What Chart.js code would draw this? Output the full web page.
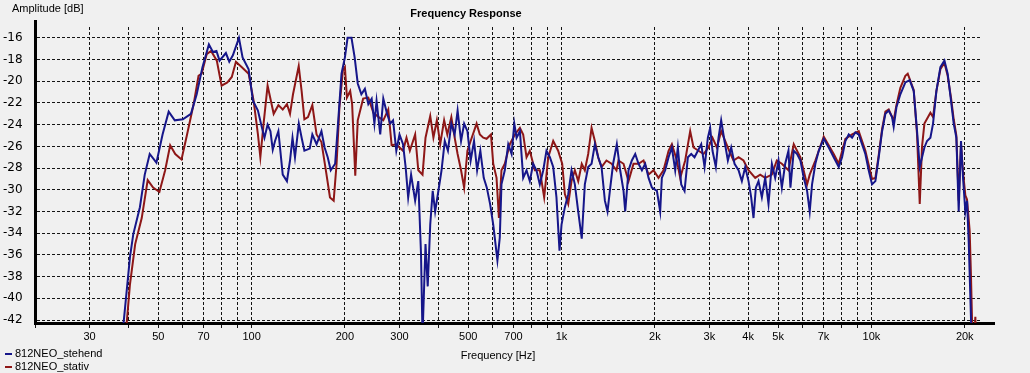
<!DOCTYPE html>
<html>
<head>
<meta charset="utf-8">
<title>Frequency Response</title>
<script src="https://cdn.jsdelivr.net/npm/chart.js@4.4.7/dist/chart.umd.min.js"></script>
<style>
  html, body { margin: 0; padding: 0; background: #f0f0f0; }
  #wrap { position: relative; width: 1030px; height: 373px; }
  #chart { display: block; }
  #legend { position: absolute; left: 5px; top: 347px; font: 11px "Liberation Sans", Arial, sans-serif; color: #000; }
  #legend .row { height: 13px; line-height: 13px; white-space: nowrap; }
  #legend .mark { display: inline-block; width: 7px; height: 2px; vertical-align: middle; margin-right: 3px; }
</style>
</head>
<body>
<div id="wrap">
  <canvas id="chart" width="1030" height="373"></canvas>
  <div id="legend"></div>
</div>
<script>
// axis ticks
const gridFreqs = [20, 30, 40, 50, 60, 70, 80, 90, 100, 200, 300, 400, 500, 600, 700, 800, 900,
  1000, 2000, 3000, 4000, 5000, 6000, 7000, 8000, 9000, 10000, 20000]
const labelFreqs = [30, 50, 70, 100, 200, 300, 500, 700, 1000, 2000, 3000, 4000, 5000, 7000, 10000, 20000]
const labelTexts = ["30", "50", "70", "100", "200", "300", "500", "700", "1k", "2k", "3k", "4k", "5k", "7k", "10k", "20k"]
const dbTicks = [-42, -40, -38, -36, -34, -32, -30, -28, -26, -24, -22, -20, -18, -16]

// 812NEO_stehend
const stehendHz = [
  37.5, 38.7, 40.5, 41.5, 43.6, 45.2, 46.9, 49.3, 51.6, 54,
  56.5, 60, 63.7, 66.5, 69.4, 72.8, 75, 77, 78.8, 82.6,
  84.7, 87, 91, 93.5, 97.8, 101, 104.8, 107.8, 110, 112.6,
  115, 117, 119, 122, 126, 130, 133, 135.5, 138, 142,
  145, 148, 154, 157, 162, 168, 172, 176, 180, 186,
  190, 195, 200, 204, 210, 215, 220, 226, 232, 238,
  244, 249, 253, 260, 266, 273, 280, 286, 293, 300,
  308, 314, 320, 327, 337, 345, 352, 356, 364, 370,
  377, 384, 391, 400, 410, 420, 430, 441, 452, 462,
  474, 485, 497, 509, 522, 534, 547, 561, 574, 588,
  602, 621, 632, 640, 656, 673, 690, 704, 716, 734,
  752, 771, 790, 810, 830, 851, 873, 894, 917, 940,
  963, 985, 1000, 1025, 1051, 1077, 1104, 1132, 1162, 1189,
  1219, 1250, 1281, 1313, 1346, 1380, 1407, 1432, 1467, 1508,
  1546, 1585, 1605, 1645, 1686, 1729, 1772, 1817, 1862, 1909,
  1957, 2031, 2081, 2107, 2160, 2215, 2270, 2327, 2373, 2433,
  2494, 2557, 2621, 2686, 2754, 2823, 2894, 2966, 3017, 3070,
  3147, 3211, 3274, 3356, 3441, 3527, 3616, 3725, 3818, 3914,
  4012, 4092, 4163, 4237, 4321, 4430, 4541, 4654, 4772, 4891,
  5013, 5139, 5268, 5398, 5477, 5614, 5755, 5899, 6047, 6199,
  6321, 6432, 6592, 6760, 7015, 7281, 7554, 7842, 8040, 8239,
  8447, 8660, 8873, 9097, 9325, 9558, 9796, 10044, 10297, 10555,
  10823, 11091, 11368, 11656, 11795, 12038, 12395, 12866, 13288, 13690,
  14032, 14315, 14563, 14820, 15113, 15495, 15803, 16199, 16690, 17196,
  17618, 18059, 18426, 18793, 19121, 19453, 19746, 20088, 20341, 20594,
  20956, 21150
]
const stehendDb = [
  -46, -42, -36.2, -34.1, -31.6, -28.6, -26.7, -27.5, -24.9, -22.8,
  -23.6, -23.5, -23.0, -21.2, -18.7, -16.6, -17.3, -17.2, -18.1, -17.4,
  -18.2, -17.6, -16.0, -17.8, -18.9, -21.8, -22.7, -24.2, -25.2, -24.0,
  -24.6, -26.3, -25.5, -24.6, -28.6, -29.2, -27.3, -25.2, -27.0, -23.9,
  -25.2, -26.4, -26.2, -24.9, -25.8, -24.6, -26.1, -27.0, -28.2, -27.6,
  -23.9, -19.3, -17.8, -16.0, -16.0, -17.8, -20.2, -21.2, -20.7, -22.1,
  -21.6, -23.9, -21.8, -24.9, -21.6, -22.9, -23.9, -23.6, -26.4, -24.9,
  -25.8, -27.9, -30.7, -28.6, -31.0, -29.2, -35.9, -43.5, -35.0, -38.9,
  -33.2, -30.1, -32.0, -30.2, -28.2, -25.5, -26.4, -23.9, -24.9, -22.7,
  -25.5, -23.9, -24.6, -27.3, -25.5, -28.2, -26.4, -28.9, -29.8, -31.3,
  -33.2, -36.5, -34.4, -29.5, -28.2, -25.8, -26.7, -23.9, -25.2, -24.6,
  -28.9, -28.2, -29.2, -27.6, -28.2, -29.5, -28.2, -26.4, -27.0, -27.9,
  -30.7, -35.6, -33.2, -31.6, -30.4, -28.2, -29.5, -32.0, -34.5, -29.5,
  -27.9, -27.6, -25.8, -27.0, -27.9, -31.0, -32.0, -30.1, -27.6, -25.8,
  -28.2, -30.1, -32.0, -28.2, -27.3, -26.7, -27.6, -28.2, -27.6, -28.9,
  -29.8, -30.1, -32.0, -28.9, -28.2, -27.0, -26.1, -28.2, -26.1, -29.5,
  -30.1, -27.0, -26.7, -27.0, -26.4, -25.8, -27.9, -25.2, -24.3, -26.4,
  -27.9, -25.2, -23.6, -25.5, -27.3, -26.1, -27.6, -28.2, -29.2, -27.9,
  -29.2, -30.7, -32.6, -29.8, -29.2, -30.7, -28.9, -31.3, -27.6, -28.9,
  -27.3, -29.8, -27.6, -26.4, -29.8, -26.4, -26.7, -27.3, -28.9, -30.1,
  -32.0, -29.5, -27.6, -26.4, -25.3, -26.1, -27.0, -27.9, -27.0, -25.5,
  -24.9, -25.2, -24.7, -24.9, -25.8, -26.7, -28.2, -29.5, -29.2, -27.0,
  -24.6, -23.0, -22.7, -23.3, -24.2, -22.4, -21.2, -20.1, -19.9, -20.9,
  -24.6, -27.9, -27.0, -26.1, -25.5, -25.2, -23.9, -20.9, -18.7, -18.1,
  -19.3, -21.8, -23.9, -25.2, -32.0, -25.5, -28.9, -32.0, -31.0, -34.7,
  -42.0, -48
]

// 812NEO_stativ
const stativHz = [
  38.5, 39.6, 40.5, 42.1, 44.2, 46.2, 48.1, 50.4, 52.6, 54.6,
  56.7, 59.4, 61.9, 65, 67.4, 69, 71.6, 74, 77.2, 80,
  83.5, 86.3, 89, 93, 97.8, 101.5, 104.8, 106.7, 109.3, 112.6,
  117.8, 122, 126, 130, 133, 136, 141.9, 145, 148, 152,
  157, 162, 168, 174, 179, 184, 188, 192, 197, 200,
  203, 208, 211, 216, 220, 229, 238, 247, 257, 266,
  276, 283, 293, 308, 316, 324, 337, 345, 356, 364,
  377, 386, 396, 406, 418, 428, 441, 452, 462, 474,
  485, 497, 509, 532, 545, 559, 573, 592, 602, 617,
  628, 640, 656, 681, 707, 734, 752, 771, 790, 820,
  851, 879, 906, 940, 975, 1005, 1025, 1051, 1077, 1104,
  1132, 1162, 1189, 1219, 1250, 1281, 1313, 1346, 1396, 1450,
  1504, 1527, 1585, 1645, 1707, 1772, 1839, 1909, 1981, 2055,
  2133, 2215, 2270, 2356, 2415, 2506, 2601, 2666, 2767, 2872,
  2979, 3070, 3171, 3274, 3372, 3474, 3589, 3725, 3865, 4012,
  4216, 4375, 4541, 4772, 4950, 5139, 5398, 5614, 5899, 6199,
  6321, 6592, 7015, 7554, 7842, 8239, 8660, 9097, 9558, 10044,
  10297, 10555, 10823, 11091, 11368, 11795, 12038, 12395, 12866, 13094,
  13690, 14032, 14315, 14563, 14820, 15495, 15803, 16199, 16690, 17196,
  17618, 18059, 18426, 18793, 19121, 19453, 19746, 20088, 20341, 20748,
  20956, 21110, 21350, 21640, 21850
]
const stativDb = [
  -46, -42, -38.7, -35.0, -32.6, -29.1, -29.8, -30.2, -28.2, -25.9,
  -26.7, -27.2, -24.9, -22.1, -19.5, -19.3, -17.5, -17.2, -18.1, -20.4,
  -20.1, -19.6, -18.2, -18.7, -19.3, -21.8, -24.9, -27.0, -23.9, -20.4,
  -23.0, -22.2, -22.6, -22.1, -23.0, -21.2, -18.6, -20.9, -23.5, -23.3,
  -22.2, -24.9, -25.6, -28.4, -30.7, -31.0, -27.6, -22.4, -19.0, -18.7,
  -21.5, -20.9, -22.1, -28.7, -23.6, -21.6, -21.5, -22.9, -23.3, -23.6,
  -22.6, -25.9, -25.8, -26.4, -25.2, -26.4, -24.9, -28.2, -28.6, -25.2,
  -23.2, -25.2, -23.6, -25.8, -23.6, -24.9, -23.3, -25.2, -26.7, -28.2,
  -29.8, -26.4, -25.5, -23.9, -24.9, -25.2, -25.3, -24.9, -27.6, -28.9,
  -32.6, -28.2, -27.6, -25.8, -24.9, -24.3, -24.9, -27.0, -26.4, -28.2,
  -28.2, -30.7, -27.0, -25.5, -26.4, -27.6, -30.4, -31.3, -29.2, -28.2,
  -29.2, -27.6, -28.2, -26.7, -24.3, -25.5, -27.0, -27.9, -27.3, -27.6,
  -28.2, -27.3, -27.6, -29.2, -27.6, -27.6, -27.3, -28.6, -28.2, -28.9,
  -28.2, -26.4, -25.8, -27.3, -28.9, -27.3, -24.6, -26.1, -26.4, -26.7,
  -26.1, -25.2, -26.1, -24.6, -25.5, -26.4, -27.3, -27.0, -27.3, -28.2,
  -28.9, -28.6, -28.9, -28.6, -27.3, -27.6, -28.2, -25.8, -27.0, -29.5,
  -28.6, -27.3, -25.1, -26.7, -27.6, -25.3, -24.9, -24.6, -26.4, -29.0,
  -28.9, -26.8, -24.4, -22.8, -22.6, -23.6, -22.2, -20.6, -19.5, -19.3,
  -20.8, -24.9, -31.3, -26.0, -23.9, -22.9, -23.3, -20.9, -18.9, -18.3,
  -19.5, -21.5, -23.5, -25.0, -31.0, -25.8, -28.4, -30.5, -30.9, -33.8,
  -38.1, -42.0, -45.0, -41.7, -46.0
]

const FONT = '"Liberation Sans", Arial, sans-serif'
Chart.defaults.font.family = FONT
Chart.defaults.font.size = 11
Chart.defaults.color = "#000"

const toPoints = (hz, db) => hz.map((f, i) => ({ x: f, y: db[i] }))

// heading texts, axis title and the little overhang of the axis lines
const chartTexts = {
  id: "chartTexts",
  afterDraw(chart) {
    const { ctx, chartArea } = chart
    const ax = Math.round(chartArea.left - 1.5) + 1.5
    const ay = Math.round(chartArea.bottom - 1.5) + 1.5
    ctx.save()
    ctx.strokeStyle = "#000"
    ctx.lineWidth = 3
    ctx.beginPath()
    ctx.moveTo(ax, chartArea.top + 1)
    ctx.lineTo(ax, chartArea.top - 7)
    ctx.moveTo(chartArea.right - 1, ay)
    ctx.lineTo(chartArea.right + 15, ay)
    ctx.stroke()
    ctx.fillStyle = "#000"
    ctx.textBaseline = "alphabetic"
    ctx.font = "11px " + FONT
    ctx.fillText("Amplitude [dB]", 12, 12)
    ctx.textAlign = "center"
    ctx.fillText("Frequency [Hz]", 498, 359)
    ctx.font = "bold 11px " + FONT
    ctx.fillText("Frequency Response", 466, 17)
    ctx.restore()
  }
}

const gridStyle = { color: "#141414", lineWidth: 1 }
const borderStyle = { color: "#000", width: 3, dash: [3, 2] }

const chart = new Chart(document.getElementById("chart"), {
  type: "line",
  data: {
    datasets: [
      {
        label: "812NEO_stehend",
        data: toPoints(stehendHz, stehendDb),
        borderColor: "#16168a",
        borderWidth: 2,
        pointRadius: 0,
        tension: 0
      },
      {
        label: "812NEO_stativ",
        data: toPoints(stativHz, stativDb),
        borderColor: "#8e1717",
        borderWidth: 2,
        pointRadius: 0,
        tension: 0
      }
    ]
  },
  options: {
    responsive: false,
    animation: false,
    layout: { padding: { left: 3, top: 27, right: 50, bottom: 0 } },
    plugins: {
      legend: { display: false },
      tooltip: { enabled: false }
    },
    scales: {
      x: {
        type: "logarithmic",
        min: 20,
        max: 22400,
        afterBuildTicks: s => { s.ticks = gridFreqs.map(v => ({ value: v })) },
        afterFit: s => { s.height = 50 },
        ticks: {
          autoSkip: false,
          maxRotation: 0,
          padding: 2,
          callback: v => {
            const i = labelFreqs.indexOf(v)
            return i < 0 ? "" : labelTexts[i]
          }
        },
        grid: { ...gridStyle, drawTicks: true, tickLength: 5, tickBorderDash: [3, 2], tickColor: "#141414" },
        border: borderStyle
      },
      y: {
        min: -42.27,
        max: -15,
        afterBuildTicks: s => { s.ticks = dbTicks.map(v => ({ value: v })) },
        afterFit: s => { s.width = 32 },
        ticks: {
          crossAlign: "far",
          font: { family: '"DejaVu Sans", sans-serif', size: 12 },
          callback: v => String(v)
        },
        grid: { ...gridStyle, drawTicks: false },
        border: borderStyle
      }
    }
  },
  plugins: [chartTexts]
})

// legend, stacked like the original
const legendEl = document.getElementById("legend")
chart.data.datasets.forEach(ds => {
  const row = document.createElement("div")
  row.className = "row"
  const mark = document.createElement("span")
  mark.className = "mark"
  mark.style.background = ds.borderColor
  row.appendChild(mark)
  row.appendChild(document.createTextNode(ds.label))
  legendEl.appendChild(row)
})
</script>
</body>
</html>
